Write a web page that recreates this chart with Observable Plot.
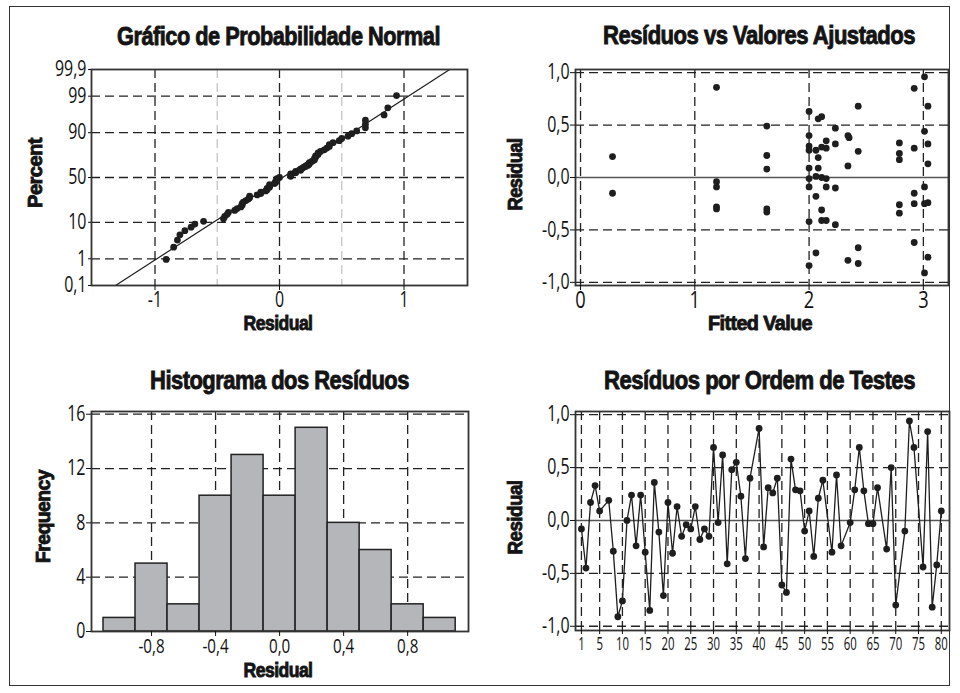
<!DOCTYPE html>
<html><head><meta charset="utf-8">
<script src="https://cdn.jsdelivr.net/npm/d3@7"></script>
<script src="https://cdn.jsdelivr.net/npm/@observablehq/plot@0.6"></script>
<style>
html,body{margin:0;padding:0;background:#fff;}
#wrap{position:relative;width:960px;height:693px;overflow:hidden;background:#fff;}
#border{position:absolute;left:9px;top:6px;width:939px;height:678px;border:1.6px solid #333;}
.panel{position:absolute;}
#overlay{position:absolute;left:0;top:0;pointer-events:none;}
</style></head><body>
<div id="wrap"><div id="border"></div>
<div class="panel" id="p1" style="left:0;top:0"></div>
<div class="panel" id="p2" style="left:480px;top:0"></div>
<div class="panel" id="p3" style="left:0;top:340px"></div>
<div class="panel" id="p4" style="left:480px;top:340px"></div>
<svg id="overlay" width="960" height="693"></svg>
</div>
<script>
// ---------- DATA ----------
// Residuals by observation order (read from "Resíduos por Ordem de Testes")
const orderIdx = [1,2,3,4,5,7,8,9,10,11,12,13,14,15,16,17,18,19,20,21,22,23,24,25,26,27,28,29,30,31,32,33,34,35,36,37,38,40,41,42,43,44,45,46,47,48,49,50,51,52,53,54,56,57,58,60,61,62,63,64,65,66,68,69,70,72,73,74,76,77,78,79,80];
const orderResid = [-0.08,-0.45,0.17,0.33,0.09,0.19,-0.29,-0.91,-0.76,0.00,0.24,-0.24,0.24,-0.30,-0.85,0.36,-0.11,-0.71,0.17,-0.31,0.13,-0.15,-0.04,-0.08,0.13,-0.18,-0.08,-0.15,0.69,-0.02,0.62,-0.41,0.48,0.55,0.23,-0.36,0.40,0.87,-0.25,0.31,0.26,0.40,-0.61,-0.68,0.58,0.29,0.28,-0.10,0.09,-0.34,0.21,0.38,-0.30,0.43,-0.24,-0.02,0.29,0.69,0.28,-0.03,-0.03,0.31,-0.27,0.50,-0.80,-0.10,0.94,0.69,-0.44,0.84,-0.82,-0.42,0.09];

// Fitted values and residuals (read from "Resíduos vs Valores Ajustados")
const fittedVals = [0.28,0.28, 1.19,1.19,1.19,1.19,1.19, 1.63,1.63,1.63,1.63,1.63,
  2.00,2.00,2.00,2.00,2.00,2.00,2.00,2.00,2.00, 2.06,2.06,2.06,2.06, 2.08,2.08,2.08,
  2.11,2.11,2.11,2.11,2.11, 2.15,2.15,2.15,2.15,2.15, 2.23,2.23,2.23,2.23, 2.34,2.35,2.34,2.34,
  2.43,2.43,2.43,2.43, 2.79,2.79,2.79,2.79,2.79, 2.92,2.92,2.92,2.92,2.92,
  3.01,3.01,3.01,3.01,3.01, 3.04,3.04,3.04,3.04,3.04];
const fittedResid = [0.20,-0.15, 0.86,-0.04,-0.09,-0.28,-0.30, 0.49,0.21,0.08,-0.30,-0.33,
  0.63,0.40,0.30,0.26,0.09,-0.01,-0.09,-0.42,-0.84, 0.26,0.01,-0.18,-0.72, 0.56,0.19,0.09,
  0.58,0.29,0.00,-0.31,-0.41, 0.35,0.28,-0.01,-0.09,-0.41, 0.47,0.32,-0.10,-0.45, 0.40,0.38,0.11,-0.79,
  0.68,0.25,-0.67,-0.82, 0.33,0.23,0.17,-0.26,-0.34, 0.85,0.28,-0.15,-0.25,-0.62,
  0.96,0.44,-0.09,-0.25,-0.91, 0.68,0.32,0.13,-0.24,-0.76];

// Histogram (bin centers and frequencies)
const binCenters = [-1.0,-0.8,-0.6,-0.4,-0.2,0.0,0.2,0.4,0.6,0.8,1.0];
const binCounts  = [1,5,2,10,13,10,15,8,6,2,1];
const binWidth = 0.2;

// Tick values and labels
const pctTicks  = [0.1,1,10,50,90,99,99.9];
const pctLabels = ["0,1","1","10","50","90","99","99,9"];
const pctGrid   = [1,10,50,90,99];
const normXTicks = [-1,0,1];
const normXLabels = ["-1","0","1"];
const normXMinor = [-0.5,0.5];
const residTicks = [-1,-0.5,0,0.5,1];
const residLabels = ["-1,0","-0,5","0,0","0,5","1,0"];
const fitTicks = [0,1,2,3];
const fitLabels = ["0","1","2","3"];
const histXTicks = [-0.8,-0.4,0,0.4,0.8];
const histXLabels = ["-0,8","-0,4","0,0","0,4","0,8"];
const histYTicks = [0,4,8,12,16];
const orderTicks = [1,5,10,15,20,25,30,35,40,45,50,55,60,65,70,75,80];

// ---------- HELPERS ----------
function qnorm(p){
  const a=[-3.969683028665376e+01,2.209460984245205e+02,-2.759285104469687e+02,1.383577518672690e+02,-3.066479806614716e+01,2.506628277459239e+00];
  const b=[-5.447609879822406e+01,1.615858368580409e+02,-1.556989798598866e+02,6.680131188771972e+01,-1.328068155288572e+01];
  const c=[-7.784894002430293e-03,-3.223964580411365e-01,-2.400758277161838e+00,-2.549671010739305e+00,4.374664141464968e+00,2.938163982698783e+00];
  const d=[7.784695709041462e-03,3.224671290700398e-01,2.445134137142996e+00,3.754408661907416e+00];
  const pl=0.02425; let q,r;
  if(p<pl){q=Math.sqrt(-2*Math.log(p));return (((((c[0]*q+c[1])*q+c[2])*q+c[3])*q+c[4])*q+c[5])/((((d[0]*q+d[1])*q+d[2])*q+d[3])*q+1);}
  if(p<=1-pl){q=p-0.5;r=q*q;return (((((a[0]*r+a[1])*r+a[2])*r+a[3])*r+a[4])*r+a[5])*q/(((((b[0]*r+b[1])*r+b[2])*r+b[3])*r+b[4])*r+1);}
  q=Math.sqrt(-2*Math.log(1-p));return -(((((c[0]*q+c[1])*q+c[2])*q+c[3])*q+c[4])*q+c[5])/((((d[0]*q+d[1])*q+d[2])*q+d[3])*q+1);
}
const labelOf = (vals, labs) => d => labs[vals.findIndex(v => Math.abs(v - d) < 1e-9)];
const FONT = '"Open Sans","Liberation Sans",sans-serif';
const style = {fontFamily: FONT, fontSize: "21px", color: "#111", background: "transparent", overflow: "visible"};
const DASH = "9,5";
const gridOpt = {stroke: "#222", strokeWidth: 1.3, strokeDasharray: DASH};
const frameOpt = {stroke: "#333", strokeWidth: 1.8};
const ink = "#1e1e1e";
const R = 3.4;

// condense tick labels horizontally (Minitab-like narrow font)
function condenseTicks(svg, sx, which = "") {
  svg.querySelectorAll(`g[aria-label$="${which}tick label"] text`).forEach(t => {
    const tr = t.getAttribute("transform") || "";
    t.setAttribute("transform", tr + ` scale(${sx},1)`);
  });
}

// ---------- PANEL 1: Normal probability ----------
const n = orderResid.length;
const sorted = orderResid.slice().sort(d3.ascending);
const probData = sorted.map((r, i) => ({r, z: qnorm((i + 1 - 0.3) / (n + 0.4))}));
const mu = d3.mean(orderResid), sd = d3.deviation(orderResid);
const fitLine = [-4, 4].map(z => ({z, r: mu + sd * z}));
const zTicks = pctTicks.map(p => qnorm(p / 100));

const p1 = Plot.plot({
  width: 480, height: 340, marginLeft: 91, marginRight: 13, marginTop: 69, marginBottom: 55,
  style,
  x: {domain: [-1.51, 1.51]},
  y: {domain: [qnorm(0.001), qnorm(0.999)]},
  marks: [
    Plot.ruleX(normXMinor, {stroke: "#c4c4c4", strokeWidth: 1.3, strokeDasharray: DASH}),
    Plot.ruleX(normXTicks, gridOpt),
    Plot.ruleY(pctGrid.map(p => qnorm(p / 100)), gridOpt),
    Plot.line(fitLine, {x: "r", y: "z", stroke: ink, strokeWidth: 1.2, clip: true}),
    Plot.dot(probData, {x: "r", y: "z", r: R, fill: ink, stroke: "none"}),
    Plot.frame(frameOpt),
    Plot.axisX(normXTicks, {tickFormat: labelOf(normXTicks, normXLabels), tickSize: 5, tickPadding: 2, label: null}),
    Plot.axisY(zTicks, {tickFormat: labelOf(zTicks, pctLabels), tickSize: 3, tickPadding: 2, label: null})
  ]
});
document.getElementById("p1").append(p1);
condenseTicks(p1, 0.76);

// ---------- PANEL 2: Residuals vs fitted ----------
const fitData = fittedVals.map((f, i) => ({f, r: fittedResid[i]}));
const p2 = Plot.plot({
  width: 480, height: 340, marginLeft: 95, marginRight: 12, marginTop: 69, marginBottom: 55,
  style,
  x: {domain: [-0.044, 3.22]},
  y: {domain: [-1.03, 1.03]},
  marks: [
    Plot.ruleX(fitTicks, gridOpt),
    Plot.ruleY(residTicks.filter(d => d !== 0), gridOpt),
    Plot.ruleY([0], {stroke: "#555", strokeWidth: 1.5}),
    Plot.dot(fitData, {x: "f", y: "r", r: R, fill: ink, stroke: "none"}),
    Plot.frame(frameOpt),
    Plot.axisX(fitTicks, {tickFormat: labelOf(fitTicks, fitLabels), tickSize: 5, tickPadding: 0, fontSize: 24, label: null}),
    Plot.axisY(residTicks, {tickFormat: labelOf(residTicks, residLabels), tickSize: 5, tickPadding: 1, label: null})
  ]
});
document.getElementById("p2").append(p2);
condenseTicks(p2, 0.76);

// ---------- PANEL 3: Histogram ----------
const histData = binCenters.map((c, i) => ({c, n: binCounts[i]}));
const p3 = Plot.plot({
  width: 480, height: 353, marginLeft: 91, marginRight: 12, marginTop: 71, marginBottom: 62,
  style,
  x: {domain: [-1.175, 1.18]},
  y: {domain: [0, 16.2]},
  marks: [
    Plot.ruleX(histXTicks, gridOpt),
    Plot.ruleY(histYTicks.filter(d => d > 0), gridOpt),
    Plot.rectY(histData, {x1: d => d.c - binWidth / 2, x2: d => d.c + binWidth / 2, y: "n", fill: "#b5b6b9", stroke: "#222", strokeWidth: 1.5}),
    Plot.frame(frameOpt),
    Plot.axisX(histXTicks, {tickFormat: labelOf(histXTicks, histXLabels), tickSize: 5, tickPadding: 2, fontSize: 20, label: null}),
    Plot.axisY(histYTicks, {tickFormat: d => String(d), tickSize: 5, tickPadding: 1, label: null})
  ]
});
document.getElementById("p3").append(p3);
condenseTicks(p3, 0.76);

// ---------- PANEL 4: Residuals by order ----------
const ordData = orderIdx.map((k, i) => ({k, r: orderResid[i]}));
const p4 = Plot.plot({
  width: 480, height: 353, marginLeft: 95, marginRight: 11, marginTop: 71, marginBottom: 63,
  style,
  x: {domain: [-0.3, 81.8]},
  y: {domain: [-1.04, 1.03]},
  marks: [
    Plot.ruleX(orderTicks, gridOpt),
    Plot.ruleY(residTicks.filter(d => d !== 0), gridOpt),
    Plot.ruleY([0], {stroke: "#555", strokeWidth: 1.5}),
    Plot.line(ordData, {x: "k", y: "r", stroke: ink, strokeWidth: 1.3}),
    Plot.dot(ordData, {x: "k", y: "r", r: R, fill: ink, stroke: "none"}),
    Plot.frame(frameOpt),
    Plot.axisX(orderTicks, {tickSize: 4, tickPadding: 2, fontSize: 19, label: null}),
    Plot.axisY(residTicks, {tickFormat: labelOf(residTicks, residLabels), tickSize: 5, tickPadding: 1, label: null})
  ]
});
document.getElementById("p4").append(p4);
condenseTicks(p4, 0.76, "y-axis ");
condenseTicks(p4, 0.6, "x-axis ");

// ---------- TITLES & AXIS LABELS ----------
const texts = [
  {t: "Gráfico de Probabilidade Normal", x: 278.5, y: 45, len: 323, size: 26},
  {t: "Resíduos vs Valores Ajustados", x: 759, y: 44, len: 312, size: 26},
  {t: "Histograma dos Resíduos", x: 279.5, y: 389, len: 259, size: 26},
  {t: "Resíduos por Ordem de Testes", x: 759.5, y: 389, len: 311, size: 26},
  {t: "Residual", x: 278, y: 330, len: 69, size: 20},
  {t: "Fitted Value", x: 760, y: 330, len: 104, size: 20},
  {t: "Residual", x: 278, y: 677, len: 69, size: 20},
  {t: "Percent", x: 41.5, y: 173, len: 70, size: 20, rot: true},
  {t: "Residual", x: 521.5, y: 174.5, len: 72, size: 20, rot: true},
  {t: "Frequency", x: 49.5, y: 516.5, len: 93, size: 20, rot: true},
  {t: "Residual", x: 521.5, y: 517.5, len: 74, size: 20, rot: true}
];
const ov = d3.select("#overlay");
texts.forEach(o => {
  const el = ov.append("text")
    .attr("text-anchor", "middle")
    .attr("font-family", '"Liberation Sans",Arial,sans-serif')
    .attr("font-weight", "bold")
    .attr("font-size", o.size)
    .attr("fill", "#141414")
    .attr("stroke", "#141414")
    .attr("stroke-width", 0.9)
    .attr("letter-spacing", -0.6)
    .text(o.t);
  const natural = el.node().getComputedTextLength() || o.len;
  const sx = o.len / natural;
  el.attr("transform", o.rot
    ? `translate(${o.x},${o.y}) rotate(-90) scale(${sx},1)`
    : `translate(${o.x},${o.y}) scale(${sx},1)`);
});
</script>
</body></html>
